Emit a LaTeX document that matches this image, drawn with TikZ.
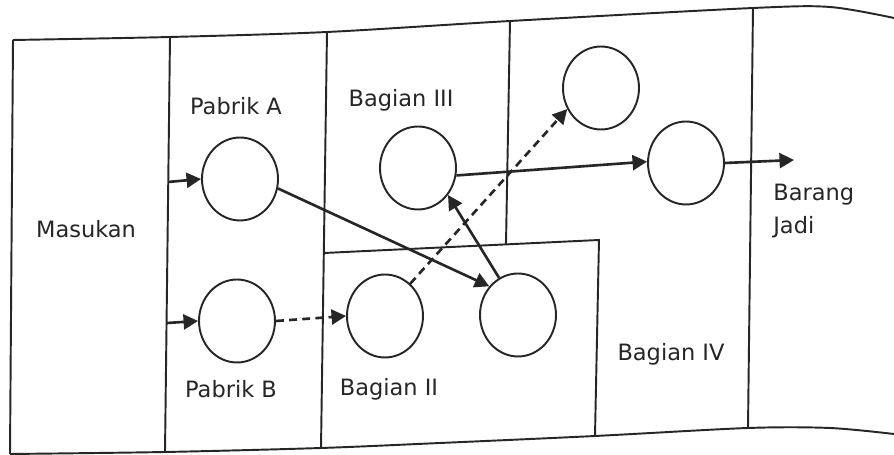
\documentclass[tikz,border=0pt]{standalone}
\usepackage{fontspec}
\setmainfont{DejaVu Sans}
\usetikzlibrary{arrows.meta,shapes.geometric}
\definecolor{ink}{HTML}{262626}
\begin{document}
\begin{tikzpicture}[x=0.02cm,y=-0.02cm,
  frame/.style={line width=1.1pt, draw=ink},
  station/.style={ellipse, draw=ink, line width=1.1pt, minimum width=1.52cm,
    minimum height=1.66cm, inner sep=0pt},
  flow/.style={line width=1.5pt, draw=ink, -{Triangle[length=0.29cm,width=0.3cm]}},
  altflow/.style={flow, dash pattern=on 4.5pt off 3pt},
  lbl/.style={text=ink, font=\fontsize{12.8}{18.7}\selectfont, inner sep=0pt}]
\useasboundingbox (0,0) rectangle (894,455);
\fill[white] (0,0) rectangle (894,455);

% outer frame, slightly curved like a printed page
\draw[frame] plot[smooth, tension=0.5] coordinates
  {(13,40) (170,37) (327,32) (510,21) (753,8) (830,7) (894,18)};
\draw[frame] plot[smooth, tension=0.5] coordinates
  {(10,454) (165,452) (321,448) (440,443) (595,436) (748,428) (830,428) (894,434)};
\draw[frame] (13,40) -- (10,454);

% column dividers
\draw[frame] (170,37) -- (165,452);
\draw[frame] (327,32) -- (321,448);
\draw[frame] (510,21) -- (506,244);
\draw[frame] (753,8) -- (748,428);
% Bagian II box
\draw[frame] (324,253) -- (599,240) -- (595,436);

% stations
\node[station] (A) at (240,179) {};
\node[station] (B) at (237,321) {};
\node[station] (BII) at (385,316) {};
\node[station] (BIIr) at (518,315) {};
\node[station] (BIII) at (418,168) {};
\node[station] (top) at (601,88) {};
\node[station] (fin) at (686,163) {};

% labels
\node[lbl] (masukan) at (86,229) {Masukan};
\node[lbl] (pa) at (236,106) {Pabrik A};
\node[lbl] (pb) at (231,389) {Pabrik B};
\node[lbl] (b3) at (401,100) {Bagian III};
\node[lbl] (b2) at (389,389) {Bagian II};
\node[lbl] (b4) at (671,354) {Bagian IV};
\node[lbl, align=left, anchor=west] (bj) at (773,211) {Barang\\Jadi};

% entry and exit points
\coordinate (inA) at (168,182);
\coordinate (inB) at (167,323);
\coordinate (out) at (794,160);

% flows
\draw[flow] (inA) -- (A.west);
\draw[flow] (inB) -- (B.west);
\draw[flow] (A.-14) -- (BIIr.135);
\draw[altflow] (B.0) -- (BII.180);
\draw[altflow] (BII.52) -- (top.212);
\draw[flow] (BIIr.117) -- (BIII.-42);
\draw[flow] (BIII.-11) -- (fin.178);
\draw[flow] (fin.east) -- (out);
\end{tikzpicture}
\end{document}
